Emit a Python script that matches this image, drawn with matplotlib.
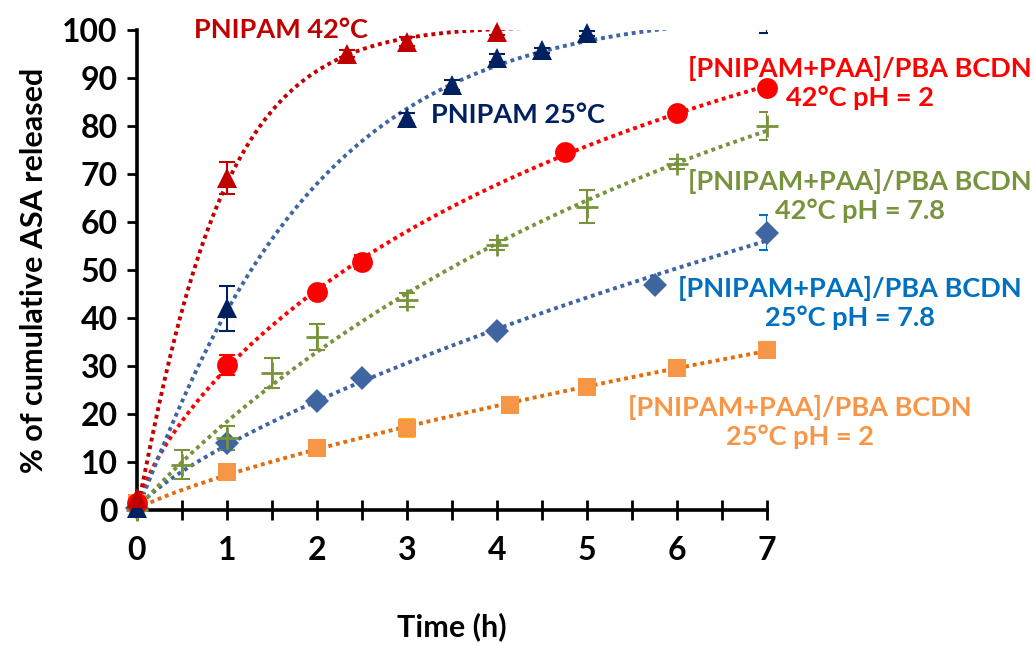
import matplotlib
matplotlib.use("Agg")
import matplotlib.pyplot as plt
import numpy as np

plt.rcParams['font.family'] = ['Lato', 'DejaVu Sans']
plt.rcParams['font.weight'] = 'bold'

# release data (time in h, % released, error)
t_p42 = [0, 1, 2.33, 3, 4, 7]
y_p42 = [2.5, 69.2, 95.1, 97.6, 99.6, 101.0]
e_p42 = [0, 3.4, 0.8, 1.0, 0.6, 0.8]

t_p25 = [0, 1, 3, 3.5, 4, 4.5, 5, 7]
y_p25 = [0.5, 42.0, 81.6, 88.5, 94.1, 95.8, 99.3, 100.6]
e_p25 = [0, 4.7, 1.2, 1.0, 0.8, 0.5, 0.5, 1.2]

t_r42 = [0, 1, 2, 2.5, 4.75, 6, 7]
y_r42 = [1.5, 30.2, 45.5, 51.7, 74.6, 82.8, 88.0]
e_r42 = [0, 2.0, 0.6, 1.5, 0.5, 0.5, 0.5]

t_g42 = [0, 0.5, 1, 1.5, 2, 3, 4, 5, 6, 7]
y_g42 = [0, 9.4, 14.9, 28.5, 36.1, 43.8, 55.2, 63.2, 72.1, 80.0]
e_g42 = [0, 3.0, 2.5, 3.1, 2.7, 1.5, 1.0, 3.5, 1.1, 3.0]

t_b25 = [0, 1, 2, 2.5, 4, 5.75, 7]
y_b25 = [0.5, 13.9, 22.7, 27.4, 37.2, 46.9, 57.8]
e_b25 = [0, 0.5, 0.5, 0.5, 0.5, 0.5, 3.6]

t_o25 = [0, 1, 2, 3, 4.14, 5, 6, 7]
y_o25 = [1.5, 8.0, 12.85, 17.1, 21.9, 25.7, 29.6, 33.3]
e_o25 = [0, 0.3, 0.3, 1.9, 1.0, 1.2, 0.8, 0.3]

label_top = "[PNIPAM+PAA]/PBA BCDN"


def trend(x, y):
    # least-squares fit of A*(1-exp(-(t/lam)^b)), grid search on lam, b
    x = np.asarray(x, float)
    y = np.asarray(y, float)
    lam = np.linspace(0.3, 60, 600)[:, None, None]
    b = np.linspace(0.6, 2.5, 80)[None, :, None]
    f = 1 - np.exp(-(x[None, None, :] / lam) ** b)
    A = (f * y).sum(-1) / (f * f).sum(-1)
    err = ((A[..., None] * f - y) ** 2).sum(-1)
    i, j = np.unravel_index(np.argmin(err), err.shape)
    xs = np.linspace(0, 7, 300)
    return xs, A[i, j] * (1 - np.exp(-(xs / lam[i, 0, 0]) ** b[0, j, 0]))


fig = plt.figure(figsize=(10.35, 6.45), dpi=100)
ax = fig.add_axes([137 / 1035, 1 - 510 / 645, 630 / 1035, 480 / 645])

series = [
    (t_o25, y_o25, e_o25, 's', 13, '#F79646', '#E46C0A', '#FFC000'),
    (t_b25, y_b25, e_b25, 'D', 12, '#3F66A0', '#3F64A0', '#0070C0'),
    (t_g42, y_g42, e_g42, '+', 16, '#77933C', '#77933C', '#77933C'),
    (t_r42, y_r42, e_r42, 'o', 15, '#FF0000', '#FF0000', '#FF0000'),
    (t_p25, y_p25, e_p25, '^', 15, '#002060', '#3E66A2', '#002060'),
    (t_p42, y_p42, e_p42, '^', 15, '#C00000', '#C00000', '#C00000'),
]

for t, y, e, mk, ms, mc, lc, ec in series:
    xs, ys = trend(t, y)
    ax.plot(xs, ys, linestyle=(0, (1, 1)), linewidth=2.8, color=lc, zorder=2)
    ax.errorbar(t, y, yerr=e, fmt='none', ecolor=ec, elinewidth=1.5,
                capsize=5.5, capthick=1.5, zorder=3)
    ta = np.array(t)
    ya = np.array(y)
    keep = ya <= 100
    ax.plot(ta[keep], ya[keep], linestyle='none', marker=mk, markersize=ms,
            color=mc, markeredgewidth=2 if mk == '+' else 0, zorder=4,
            clip_on=False)

ax.set_xlim(0, 7)
ax.set_ylim(0, 100)
ax.set_xticks(range(0, 8))
ax.set_xticks(np.arange(0.5, 7, 1), minor=True)
ax.set_yticks(range(0, 101, 10))
for s in ['top', 'right']:
    ax.spines[s].set_visible(False)
for s in ['left', 'bottom']:
    ax.spines[s].set_linewidth(2.6)
ax.tick_params(axis='y', direction='out', length=7, width=2, labelsize=23, pad=7)
ax.tick_params(axis='x', which='both', direction='inout', length=14, width=2,
               labelsize=23, pad=12)
for lab in ax.get_xticklabels() + ax.get_yticklabels():
    lab.set_fontweight('bold')

ax.set_xlabel("Time (h)", fontsize=22, fontweight='bold', labelpad=34)
ax.set_ylabel("% of cumulative ASA released", fontsize=22, fontweight='bold', labelpad=10)

kw = dict(fontsize=19.5, fontweight='bold', ha='center', va='center',
          clip_on=False, multialignment='center')
ax.text(1.6, 100, "PNIPAM 42°C", color='#C00000', **kw)
ax.text(4.23, 82.3, "PNIPAM 25°C", color='#002060', **kw)
ax.text(8.03, 89.0, label_top + "\n42°C pH = 2", color='#FF0000', **kw)
ax.text(8.03, 65.4, label_top + "\n42°C pH = 7.8", color='#77933C', **kw)
ax.text(7.92, 43.1, label_top + "\n25°C pH = 7.8", color='#0070C0', **kw)
ax.text(7.37, 18.3, label_top + "\n25°C pH = 2", color='#F79646', **kw)

fig.savefig("out.png", dpi=100)
